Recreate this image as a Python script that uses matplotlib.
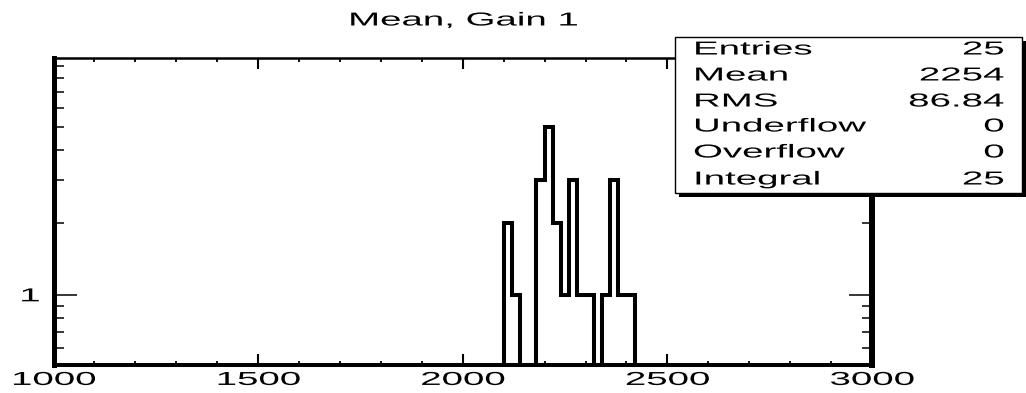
import matplotlib
matplotlib.use("Agg")
import matplotlib.pyplot as plt
import numpy as np
from matplotlib.patches import Rectangle
from matplotlib.patheffects import AbstractPathEffect
from matplotlib.transforms import Affine2D
from matplotlib.ticker import MultipleLocator, NullFormatter, FixedLocator

# histogram contents (bin low edge, entries), bins are 20 wide from 1000 to 3000
bin_lo = [2100, 2120, 2180, 2200, 2220, 2240, 2260, 2280, 2300, 2340, 2360, 2380, 2400]
bin_n = [2, 1, 3, 5, 2, 1, 3, 1, 1, 1, 3, 1, 1]
x_min, x_max, bin_w = 1000, 3000, 20

x_major = [1000, 1500, 2000, 2500, 3000]
y_major = [1]
y_minor = [0.6, 0.7, 0.8, 0.9, 2, 3, 4, 5, 6, 7, 8, 9]

stat_names = ["Entries", "Mean", "RMS", "Underflow", "Overflow", "Integral"]
stat_vals = ["25", "2254", "86.84", "0", "0", "25"]

title = "Mean, Gain 1"

W, H = 1026, 393
FONT = "Liberation Sans"
FS = 13.5
SX = 2.05  # the reference picture is stretched sideways


class StretchX(AbstractPathEffect):
    """draw text wider than normal, around a left/center/right anchor"""
    def __init__(self, sx=SX, anchor="left"):
        super().__init__()
        self.sx = sx
        self.anchor = anchor

    def draw_path(self, renderer, gc, tpath, affine, rgbFace=None):
        xs = tpath.vertices[:, 0]
        a = 0
        if len(xs):
            if self.anchor == "right":
                a = xs.max()
            elif self.anchor == "center":
                a = (xs.min() + xs.max()) / 2
        t = Affine2D().translate(-a, 0).scale(self.sx, 1).translate(a, 0) + affine
        renderer.draw_path(gc, tpath, t, rgbFace)


def fpos(x, y):
    return x / W, 1 - y / H


edges = np.arange(x_min, x_max + bin_w, bin_w)
counts = np.zeros(len(edges) - 1)
for lo, n in zip(bin_lo, bin_n):
    counts[(lo - x_min) // bin_w] = n

fig = plt.figure(figsize=(W / 100, H / 100), dpi=100)
ax = fig.add_axes([53.5 / W, 1 - 365 / H, (872 - 53.5) / W, (365 - 58) / H])

ax.set_yscale("log")
st = ax.stairs(counts, edges, baseline=None, color="black", linewidth=2.9)
st.set_joinstyle("miter")

ax.set_xlim(x_min, x_max)
ax.set_ylim(0.51, 9.7)

ax.set_xticks(x_major)
ax.xaxis.set_minor_locator(MultipleLocator(100))
ax.yaxis.set_major_locator(FixedLocator(y_major))
ax.yaxis.set_minor_locator(FixedLocator(y_minor))
ax.set_yticklabels(["1"])
ax.yaxis.set_minor_formatter(NullFormatter())

ax.tick_params(which="both", direction="in", top=True, right=True)
ax.tick_params(axis="x", which="major", length=8, width=1.5, pad=5)
ax.tick_params(axis="x", which="minor", length=3, width=1.3)
ax.tick_params(axis="y", which="major", length=16.5, width=1.1, pad=10)
ax.tick_params(axis="y", which="minor", length=7, width=1.1)

for s, lw in zip(["left", "right", "bottom", "top"], [3.6, 4.3, 2.9, 1.8]):
    ax.spines[s].set_linewidth(lw)

for lab in ax.get_xticklabels() + ax.get_yticklabels():
    lab.set_fontfamily(FONT)
    lab.set_fontsize(FS)

fig.canvas.draw()
for lab in ax.get_xticklabels():
    lab.set_path_effects([StretchX(anchor="center")])
for lab in ax.get_yticklabels():
    lab.set_path_effects([StretchX(anchor="right")])

fig.text(*fpos(463, 21), title, ha="center", va="center", family=FONT,
         fontsize=FS, path_effects=[StretchX(anchor="center")])

# stats box with shadow
bx0, by0, bx1, by1 = 675, 37, 1022, 193
fig.add_artist(Rectangle(fpos(bx0 + 4, by1 + 4), (bx1 - bx0) / W, (by1 - by0) / H,
                         transform=fig.transFigure, facecolor="black",
                         edgecolor="none", zorder=5))
fig.add_artist(Rectangle(fpos(bx0, by1), (bx1 - bx0) / W, (by1 - by0) / H,
                         transform=fig.transFigure, facecolor="white",
                         edgecolor="black", linewidth=1.0, zorder=6))
row_y = [50, 76, 102, 127, 153, 180]
for name, val, y in zip(stat_names, stat_vals, row_y):
    t1 = fig.text(*fpos(693, y), name, ha="left", va="center", family=FONT,
                  fontsize=FS, zorder=7, path_effects=[StretchX(anchor="left")])
    t2 = fig.text(*fpos(1004, y), val, ha="right", va="center", family=FONT,
                  fontsize=FS, zorder=7, path_effects=[StretchX(anchor="right")])

fig.savefig("out.png", dpi=100)
